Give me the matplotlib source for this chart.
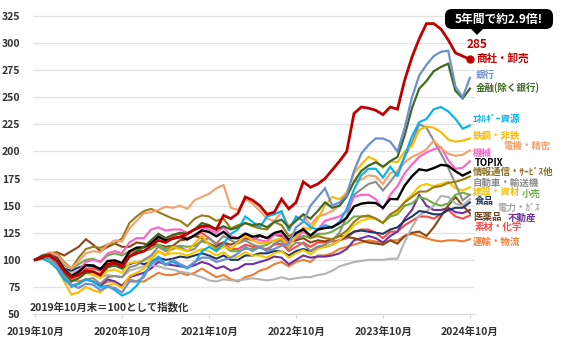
import numpy as np
import matplotlib
matplotlib.use("Agg")
import matplotlib.pyplot as plt
from matplotlib.patches import FancyBboxPatch, Polygon

plt.rcParams['font.family'] = ['Noto Sans CJK JP', 'DejaVu Sans']

# ---- data (index, 2019-10 end = 100), monthly 2019-10 .. 2024-10 ----
tick_labels = ["2019年10月", "2020年10月", "2021年10月", "2022年10月", "2023年10月", "2024年10月"]
tick_months = [0, 12, 24, 36, 48, 60]

trading = [100,103,104,99,90,84,86,90,89,86,
           96,97,94,103,106,108,113,118,116,120,
           121,124,128,131,131,128,141,138,143,158,
           155,150,142,144,156,147,153,172,167,170,
           175,183,191,200,235,241,240,238,234,241,
           239,266,287,304,318,318,313,303,291,288,285]
banks = [100,103,102,95,85,77,74,78,77,72,
         75,74,70,80,80,84,96,100,95,100,
         96,93,98,102,102,98,100,102,106,112,
         108,112,108,110,113,115,130,135,150,158,
         166,150,153,160,182,198,206,212,212,209,
         200,222,250,270,280,288,292,293,260,250,268]
finance = [100,104,105,101,88,80,83,88,89,86,
           93,95,92,103,108,112,118,124,120,123,
           125,124,128,134,132,128,131,128,130,134,
           132,133,130,135,137,130,136,142,138,145,
           153,148,150,159,172,182,187,190,186,191,
           195,215,240,258,265,274,278,281,256,249,258]
energy = [100,101,98,92,82,76,78,82,80,75,
          76,72,67,70,76,86,97,103,96,98,
          95,92,97,108,112,108,115,124,128,140,
          135,130,140,142,145,127,140,136,130,128,
          132,130,135,147,165,178,184,184,176,186,
          177,196,214,227,230,239,241,237,230,221,224]
steel = [100,101,99,92,80,68,70,75,72,70,
         76,78,74,85,88,92,100,108,104,112,
         110,108,115,122,114,108,112,110,116,122,
         118,115,116,118,120,112,122,130,128,138,
         150,158,156,162,180,188,195,192,185,191,
         190,200,205,220,223,222,218,211,209,210,212]
electric = [100,104,107,105,97,92,99,106,108,107,
            114,118,117,129,136,143,144,146,149,148,
            150,147,155,158,161,166,169,148,146,156,
            152,145,138,136,144,131,137,141,132,140,
            142,145,150,158,172,174,178,177,170,180,
            182,190,195,198,202,210,203,198,196,197,201]
machinery = [100,104,106,103,92,85,90,98,100,98,
             106,108,106,116,120,120,128,130,127,128,
             128,125,128,130,128,125,130,122,120,124,
             120,118,117,123,124,115,120,126,122,128,
             136,138,140,145,158,160,160,156,147,160,
             168,180,188,195,199,202,204,192,184,185,191]
topix = [100,102.2,103.6,101.6,91.3,85.0,88.8,95.0,94.9,91.3,
         98.9,99.5,96.9,107.8,111.2,111.6,115.3,121.1,118.0,119.5,
         121.2,118.8,122.7,127.2,125.7,121.7,125.8,120.2,119.9,124.2,
         121.4,122.6,120.1,124.8,126.6,118.4,124.4,128.2,122.3,127.9,
         129.3,130.1,133.8,138.8,149.3,151.8,152.7,152.4,148.0,156.2,
         155.9,168.6,177.1,183.5,182.4,184.6,187.6,186.9,181.8,177.7,181.1]
infocom = [100,104,106,106,98,92,102,110,112,111,
           114,115,120,134,140,145,147,144,141,138,
           136,131,138,141,140,136,138,129,132,134,
           131,129,128,135,132,122,125,127,120,122,
           120,119,122,127,135,140,141,138,134,142,
           146,153,158,163,163,167,168,171,172,174,177]
autos = [100,101,100,96,85,75,78,82,83,78,
         84,85,84,93,95,100,104,112,108,110,
         112,108,110,118,120,115,122,118,115,118,
         114,112,108,115,118,110,116,115,108,112,
         114,118,125,140,160,165,170,172,164,172,
         181,195,208,225,222,210,198,185,170,155,160]
construction = [100,103,104,100,88,80,83,88,86,83,
                90,91,88,97,98,99,102,108,105,106,
                106,104,107,110,108,104,107,102,103,107,
                104,104,102,106,108,102,106,109,105,110,
                112,114,118,124,132,136,138,138,134,142,
                144,154,160,168,170,168,170,172,166,164,167]
retail = [100,102,104,102,95,92,96,100,101,98,
          104,106,104,108,110,108,110,114,110,112,
          113,112,113,117,115,110,113,108,108,110,
          110,112,114,118,118,115,120,122,120,124,
          124,126,130,134,140,140,140,138,134,140,
          142,150,152,158,156,152,150,152,160,162,160]
food = [100,101,102,100,92,90,93,95,94,92,
        94,95,92,96,98,96,98,102,100,101,
        103,102,104,106,104,101,104,100,100,104,
        104,106,106,108,108,104,108,110,108,112,
        112,114,118,122,126,127,126,125,124,128,
        130,136,140,145,144,142,142,146,148,148,153]
power = [100,101,100,98,92,88,90,88,86,84,
         86,85,84,90,92,94,95,94,92,91,
         89,88,86,84,81,80,82,81,81,82,
         83,82,81,82,84,82,83,84,84,86,
         87,90,94,96,98,99,100,100,100,101,
         101,117,130,141,145,150,159,158,152,150,156]
pharma = [100,104,106,107,104,108,112,119,114,108,
          112,115,112,112,116,115,113,114,112,113,
          118,119,122,120,115,112,116,114,117,120,
          118,122,120,123,122,116,118,120,116,118,
          117,119,122,121,120,118,116,115,114,118,
          115,122,125,126,122,130,140,150,158,150,143]
realestate = [100,102,100,96,84,76,78,82,80,76,
              82,80,76,84,86,88,92,98,96,95,
              94,93,95,98,96,92,94,90,92,96,
              96,98,100,103,102,96,100,104,102,103,
              103,104,106,110,118,120,122,120,116,122,
              126,138,146,160,150,146,146,148,144,143,146]
materials = [100,103,104,99,88,82,86,92,92,90,
             96,98,96,106,110,112,116,122,120,122,
             124,120,122,125,120,114,116,110,110,114,
             112,111,110,114,115,108,112,116,112,116,
             116,117,118,120,126,128,128,125,120,126,
             126,132,136,140,140,138,142,146,140,138,141]
transport = [100,102,103,100,90,82,80,82,80,76,
             80,80,76,82,80,80,84,88,86,86,
             88,86,88,92,88,84,86,82,80,84,
             86,90,92,96,98,94,98,100,98,104,
             104,106,110,112,114,116,118,117,115,118,
             118,122,124,122,120,118,117,118,118,117,119]

# (series, colour, linewidth, zorder)
series = [
    (transport, "#ed7d31", 1.5, 3),
    (materials, "#ff4747", 1.5, 3),
    (realestate, "#7030a0", 1.5, 3),
    (pharma, "#8b4513", 1.5, 3),
    (power, "#b3b3b3", 1.5, 3),
    (food, "#1f3864", 1.5, 3),
    (retail, "#70ad47", 1.5, 3),
    (construction, "#f5c800", 1.5, 3),
    (autos, "#8c8c8c", 1.5, 3),
    (infocom, "#9c7a14", 1.5, 3),
    (machinery, "#ff5fc8", 1.5, 3),
    (electric, "#f4a06a", 1.5, 3),
    (steel, "#ffb800", 1.5, 3),
    (energy, "#00b0f0", 1.5, 3),
    (topix, "#000000", 1.7, 4),
    (finance, "#3d6b22", 1.6, 4),
    (banks, "#6f8fd0", 1.6, 4),
    (trading, "#c00000", 2.0, 5),
]

W, H = 567, 352
fig = plt.figure(figsize=(W / 100, H / 100), dpi=100)
ax = fig.add_axes([33 / W, 1 - 314 / H, (475 - 33) / W, (314 - 10.6) / H])

x = np.arange(len(topix))
for s, c, lw, z in series:
    ax.plot(x, s, color=c, lw=lw, zorder=z, solid_joinstyle='miter')
ax.plot(x[-1], trading[-1], 'o', color="#c00000", ms=5, zorder=6)

ax.set_xlim(-0.3, 60.7)
ax.set_ylim(50, 330)
ax.set_yticks(np.arange(50, 326, 25))
ax.set_xticks(tick_months)
ax.set_xticklabels(tick_labels)
ax.grid(axis='y', color='#e3e3e3', lw=0.9)
ax.set_axisbelow(True)
for sp in ['left', 'right', 'top']:
    ax.spines[sp].set_visible(False)
ax.spines['bottom'].set_color('#d9d9d9')
ax.tick_params(axis='y', length=0, pad=9, labelsize=7.5, labelcolor='#333333')
ax.tick_params(axis='x', length=3, color='#d9d9d9', pad=6, labelsize=7.5, labelcolor='#333333')
for t in ax.get_xticklabels() + ax.get_yticklabels():
    t.set_fontweight('bold')

# overlay in pixel coordinates for labels / callout
ov = fig.add_axes([0, 0, 1, 1], zorder=10)
ov.set_xlim(0, W)
ov.set_ylim(H, 0)
ov.axis('off')

ov.text(30, 307, "2019年10月末＝100として指数化", fontsize=7.5, fontweight='bold',
        color='#333333', va='center', ha='left')

# callout
box = FancyBboxPatch((445, 9), 108, 20, boxstyle="round,pad=0,rounding_size=7",
                     fc='black', ec='none')
ov.add_patch(box)
ov.add_patch(Polygon([[470, 28], [484, 28], [477, 35]], closed=True, fc='black', ec='none'))
ov.text(499, 19, "5年間で約2.9倍!", color='white', fontsize=8.5, fontweight='bold',
        ha='center', va='center')

ov.text(477, 45, "285", color="#c00000", fontsize=8.5, fontweight='bold', ha='center', va='center')

labels = [
    ("商社・卸売", 476, 58, "#c00000", 7.6),
    ("銀行", 476, 75, "#6f8fd0", 6.8),
    ("金融(除く銀行)", 476, 88, "#3d6b22", 6.8),
    ("ｴﾈﾙｷﾞｰ資源", 473, 119, "#00b0f0", 6.8),
    ("鉄鋼・非鉄", 473, 136, "#ffb800", 6.8),
    ("電機・精密", 503, 146, "#f4a06a", 6.8),
    ("機械", 473, 153, "#ff5fc8", 6.8),
    ("TOPIX", 475, 163, "#000000", 6.8),
    ("情報通信・ｻｰﾋﾞｽ他", 473, 172, "#8c6d1f", 6.8),
    ("自動車・輸送機", 473, 183, "#8c8c8c", 6.8),
    ("建設・資材", 473, 192, "#f5c000", 6.8),
    ("小売", 522, 194, "#70ad47", 6.8),
    ("食品", 475, 201, "#1f3864", 6.8),
    ("電力・ｶﾞｽ", 498, 208, "#a6a6a6", 6.8),
    ("医薬品", 473, 217, "#6b4226", 6.8),
    ("不動産", 508, 218, "#7030a0", 6.8),
    ("素材・化学", 475, 227, "#ff4747", 6.8),
    ("運輸・物流", 473, 242, "#ed7d31", 6.8),
]
for txt, px, py, col, fs in labels:
    ov.text(px, py, txt, color=col, fontsize=fs, fontweight='bold', ha='left', va='center')

fig.savefig("out.png", dpi=100)
